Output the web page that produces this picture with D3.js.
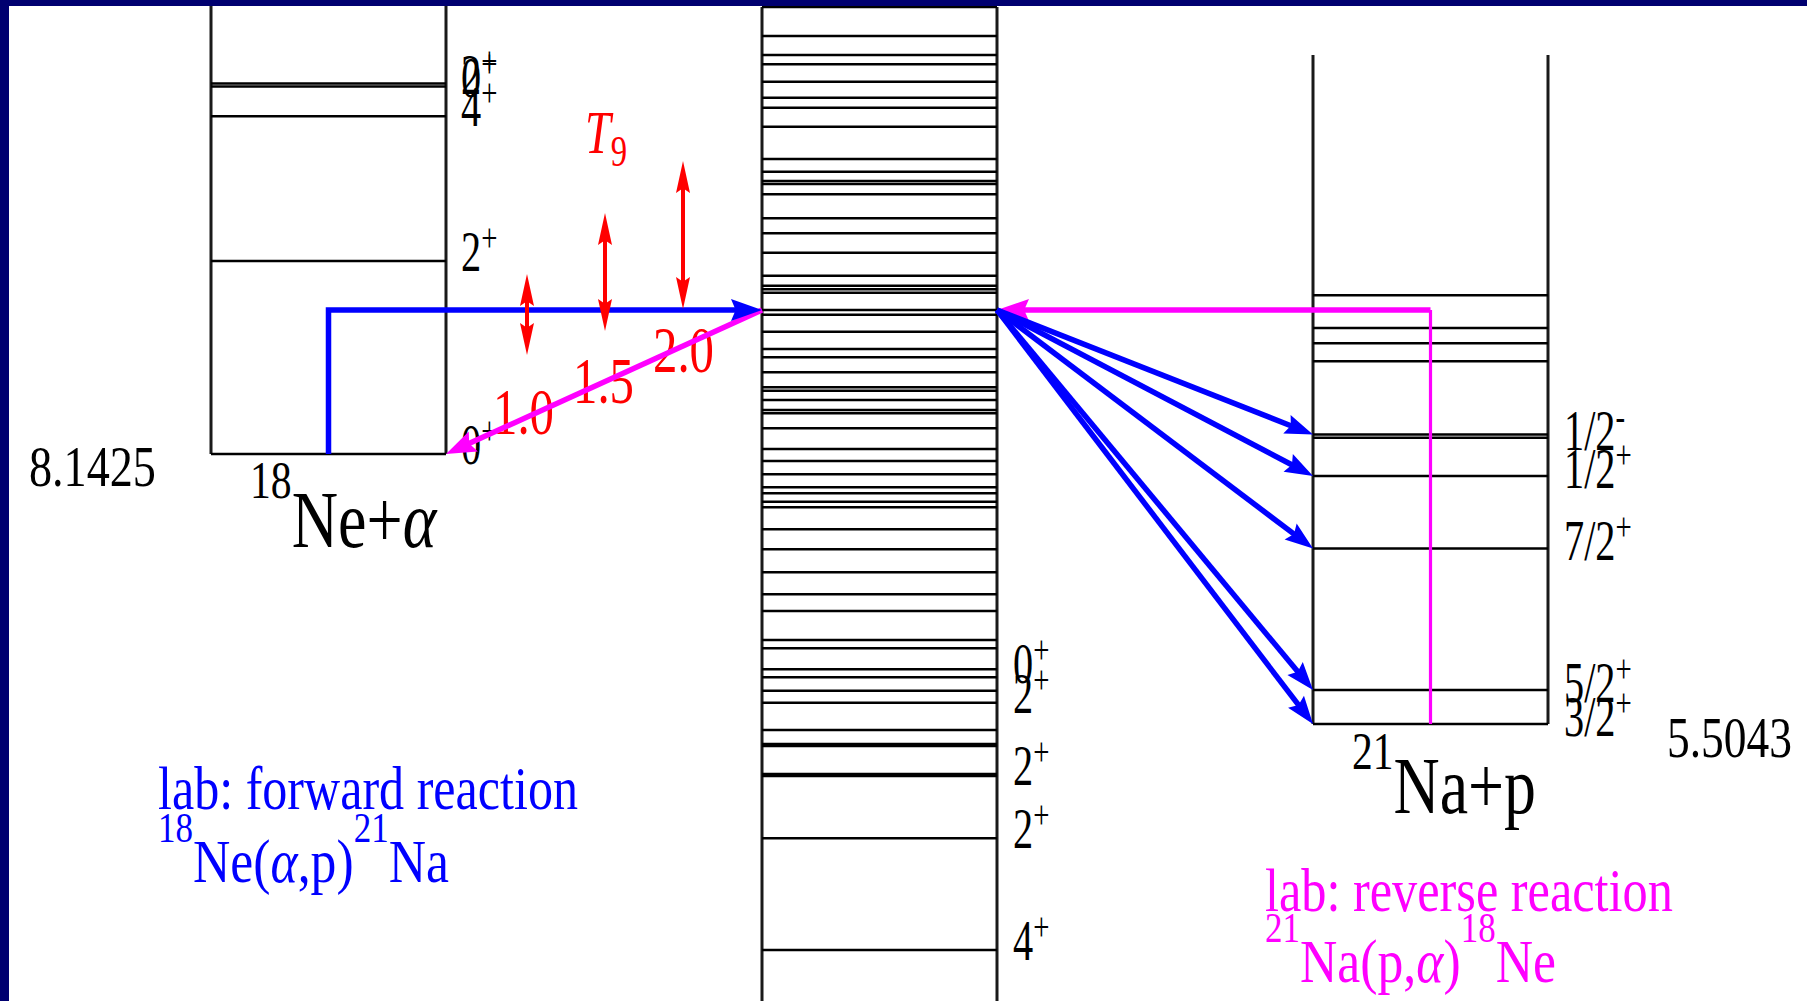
<!DOCTYPE html>
<html><head><meta charset="utf-8">
<script src="https://cdn.jsdelivr.net/npm/d3@7"></script>
<style>html,body{margin:0;padding:0;background:#fff;overflow:hidden}</style>
</head><body>
<svg id="c" width="1807" height="1001"></svg>
<script>
// ---------------- data ----------------
const systems = ["18Ne+α", "22Mg", "21Na+p"];
const thresholdAlpha = 8.1425;   // MeV, 18Ne+α threshold in 22Mg
const thresholdProton = 5.5043;  // MeV, 21Na+p threshold in 22Mg
const resonanceE = 9.550;        // resonance populated in 22Mg
const mg22Levels = [12.510, 12.227, 12.041, 11.950, 11.780, 11.624, 11.526, 11.341, 11.025, 10.901,
  10.810, 10.781, 10.680, 10.446, 10.299, 10.110, 9.885, 9.787, 9.752, 9.719, 9.550, 9.502, 9.338,
  9.168, 9.087, 8.941, 8.794, 8.761, 8.670, 8.572, 8.540, 8.394, 8.192, 8.074, 7.944, 7.817, 7.759,
  7.676, 7.622, 7.407, 7.211, 6.987, 6.772, 6.608, 6.325, 6.244, 6.039, 5.961, 5.830, 5.712, 5.446,
  5.309, 5.290, 5.016, 4.996, 4.387, 3.296];
const mg22SpinE = [3.296, 4.387, 5.006, 5.712, 6.000];
const mg22Spins = ["4+", "2+", "2+", "2+", "0+"];
const ne18Levels = [0, 1.887, 3.30, 3.59, 3.62];          // above 18Ne+α threshold
const ne18Spins = ["0+", "2+", "4+", "0+", "2+"];
const na21Levels = [0, 0.332, 1.716, 2.424, 2.798, 2.829, 3.544, 3.72, 3.87, 4.19]; // above 21Na+p
const na21SpinE = [0, 0.332, 1.716, 2.424, 2.798];
const na21Spins = ["3/2+", "5/2+", "7/2+", "1/2+", "1/2-"];
const decayTargets = [0, 0.332, 1.716, 2.424, 2.829];
const T9 = [1.0, 1.5, 2.0];
const gamowLow = [0.967, 1.202, 1.417];   // MeV above 18Ne+α threshold
const gamowHigh = [1.759, 2.355, 2.863];
const columnTop = [12.62, 12.51, 12.04];

// ---------------- layout ----------------
const W = 1807, H = 1001;
const SERIF = "'Liberation Serif','Times New Roman',Times,serif";
const svg = d3.select("#c");
svg.append("rect").attr("width", W).attr("height", H).attr("fill", "#fff");

const y = d3.scaleLinear().domain([thresholdProton, thresholdAlpha]).range([724, 454]);
const xb = d3.scaleBand().domain(systems).range([211, 1548]).paddingInner(316 / 551);
const bw = xb.bandwidth();
const xT = d3.scaleLinear().domain([1, 2]).range([527, 683]);
const bottoms = [thresholdAlpha, 2.6, thresholdProton];

const BLUE = "#0000ff", MAG = "#ff00ff", RED = "#ff0000";

// columns (vertical borders)
const gCol = svg.append("g").attr("stroke", "#1a1a1a").attr("stroke-width", 3);
systems.forEach((s, i) => {
  [xb(s), xb(s) + bw].forEach(x => {
    gCol.append("line").attr("x1", x).attr("x2", x)
      .attr("y1", y(columnTop[i])).attr("y2", y(bottoms[i]));
  });
});

// levels
const gLev = svg.append("g").attr("stroke", "#000").attr("stroke-width", 2.5);
function levels(sys, arr, off) {
  gLev.selectAll(null).data(arr).join("line")
    .attr("x1", xb(sys)).attr("x2", xb(sys) + bw)
    .attr("y1", d => y(off + d)).attr("y2", d => y(off + d));
}
levels("18Ne+α", ne18Levels, thresholdAlpha);
levels("22Mg", mg22Levels, 0);
levels("21Na+p", na21Levels, thresholdProton);

// ---------------- text helper ----------------
function rich(parent, x, yb, parts, o) {
  const g = parent.append("g").attr("transform", `translate(${x},${yb})`);
  const t = g.append("text").attr("font-family", SERIF).attr("font-size", o.size)
    .attr("fill", o.color || "#000");
  let cur = 0;
  parts.forEach(p => {
    const shift = p.sup ? -o.raise : p.sub ? o.drop : 0;
    const ts = t.append("tspan").text(p.t).attr("dy", shift - cur);
    cur = shift;
    if (p.sup || p.sub) ts.attr("font-size", o.small);
    if (p.it) ts.attr("font-style", "italic");
  });
  let sx = o.sx || 1;
  if (o.width) { const bb = t.node().getBBox(); sx = o.width / bb.width; }
  t.attr("transform", `scale(${sx},1)`);
  return g;
}
function spinParts(s) { return [{ t: s.slice(0, -1) }, { t: s.slice(-1), sup: true }]; }
const lvlOpt = { size: 56, small: 40, raise: 20, sx: 0.72 };

// spin labels
const gTxt = svg.append("g");
ne18Spins.forEach((s, i) => rich(gTxt, xb("18Ne+α") + bw + 15, y(thresholdAlpha + ne18Levels[i]) + 10, spinParts(s), lvlOpt));
mg22Spins.forEach((s, i) => rich(gTxt, xb("22Mg") + bw + 16, y(mg22SpinE[i]) + 10, spinParts(s), lvlOpt));
na21Spins.forEach((s, i) => rich(gTxt, xb("21Na+p") + bw + 16, y(thresholdProton + na21SpinE[i]) + 12, spinParts(s), lvlOpt));

// thresholds
rich(gTxt, 29, y(thresholdAlpha) + 32, [{ t: d3.format(".4f")(thresholdAlpha) }], { size: 58, width: 127 });
rich(gTxt, 1667, y(thresholdProton) + 33, [{ t: d3.format(".4f")(thresholdProton) }], { size: 58, width: 125 });

// system names
rich(gTxt, 250, 547, [{ t: "18", sup: true }, { t: "Ne+" }, { t: "α", it: true }], { size: 80, small: 52, raise: 49, width: 188 });
rich(gTxt, 1352, 813, [{ t: "21", sup: true }, { t: "Na+p" }], { size: 80, small: 52, raise: 44, width: 184 });

// ---------------- arrows ----------------
function head(g, x2, y2, ang, len, hw, color) {
  const c = Math.cos(ang), s = Math.sin(ang);
  const bx = x2 - c * len, by = y2 - s * len;
  g.append("polygon").attr("fill", color)
    .attr("points", [[x2, y2], [bx - s * hw, by + c * hw], [x2 - c * len * 0.85, y2 - s * len * 0.85], [bx + s * hw, by - c * hw]].map(p => p.join(",")).join(" "));
}
function arrow(g, x1, y1, x2, y2, color, sw, len, hw) {
  const ang = Math.atan2(y2 - y1, x2 - x1);
  g.append("line").attr("x1", x1).attr("y1", y1)
    .attr("x2", x2 - Math.cos(ang) * len * 0.8).attr("y2", y2 - Math.sin(ang) * len * 0.8)
    .attr("stroke", color).attr("stroke-width", sw);
  head(g, x2, y2, ang, len, hw, color);
}
const gA = svg.append("g");
const xNeC = xb("18Ne+α") + bw / 2, xNaC = xb("21Na+p") + bw / 2;
const yRes = y(resonanceE);

// magenta reverse path
gA.append("line").attr("x1", xNaC).attr("x2", xNaC).attr("y1", y(thresholdProton)).attr("y2", yRes)
  .attr("stroke", MAG).attr("stroke-width", 3.2);
arrow(gA, xNaC, yRes, xb("22Mg") + bw, yRes, MAG, 5.5, 32, 11);
arrow(gA, xb("22Mg"), yRes, xb("18Ne+α") + bw, y(thresholdAlpha), MAG, 5.5, 30, 11);

// blue forward path
gA.append("path").attr("d", `M${xNeC},${y(thresholdAlpha)}V${yRes}H${xb("22Mg") - 25}`)
  .attr("fill", "none").attr("stroke", BLUE).attr("stroke-width", 5.5);
head(gA, xb("22Mg"), yRes, 0, 31, 11, BLUE);
decayTargets.forEach(e => arrow(gA, xb("22Mg") + bw, yRes, xb("21Na+p"), y(thresholdProton + e), BLUE, 5.5, 28, 10));

// red Gamow windows
T9.forEach((t, i) => {
  const x = xT(t), yTop = y(thresholdAlpha + gamowHigh[i]), yBot = y(thresholdAlpha + gamowLow[i]);
  gA.append("line").attr("x1", x).attr("x2", x).attr("y1", yTop + 20).attr("y2", yBot - 20)
    .attr("stroke", RED).attr("stroke-width", 4);
  head(gA, x, yTop, -Math.PI / 2, 32, 7, RED);
  head(gA, x, yBot, Math.PI / 2, 32, 7, RED);
  rich(gTxt, x - 34 + (t - 1) * 4, 434 - (t - 1) * 62, [{ t: d3.format(".1f")(t) }], { size: 66, width: 61, color: RED });
});
rich(gTxt, 585, 153, [{ t: "T", it: true }, { t: "9", sub: true }], { size: 62, small: 44, drop: 13, width: 42, color: RED });

// reaction captions
svg.append("g").call(g => {
  rich(g, 158, 809, [{ t: "lab: forward reaction" }], { size: 62, width: 420, color: BLUE });
  rich(g, 158, 882, [{ t: "18", sup: true }, { t: "Ne(" }, { t: "α", it: true }, { t: ",p)" }, { t: "21", sup: true }, { t: "Na" }],
    { size: 62, small: 42, raise: 40, width: 291, color: BLUE });
  rich(g, 1265, 911, [{ t: "lab: reverse reaction" }], { size: 62, width: 408, color: MAG });
  rich(g, 1265, 982, [{ t: "21", sup: true }, { t: "Na(p," }, { t: "α", it: true }, { t: ")" }, { t: "18", sup: true }, { t: "Ne" }],
    { size: 62, small: 42, raise: 40, width: 291, color: MAG });
});

// slide frame (navy)
svg.append("rect").attr("x", 0).attr("y", 0).attr("width", W).attr("height", 6).attr("fill", "#000070");
svg.append("rect").attr("x", 0).attr("y", 0).attr("width", 9).attr("height", H).attr("fill", "#000070");
</script>
</body></html>
